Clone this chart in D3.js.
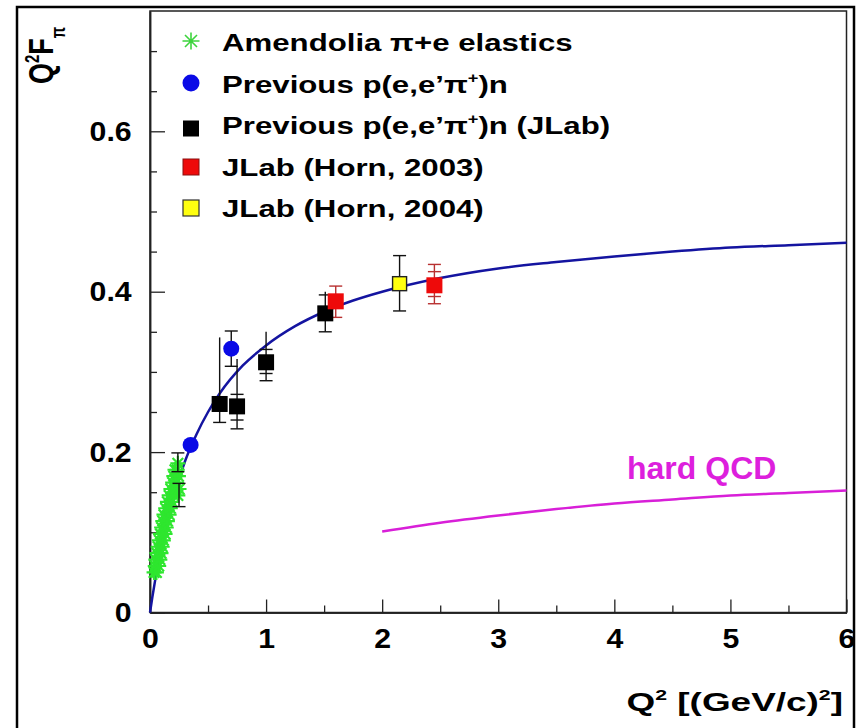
<!DOCTYPE html>
<head>
  <meta charset="utf-8">
  <title>Pion form factor</title>
  <script src="https://d3js.org/d3.v7.min.js"></script>
  <style>
    body { margin: 0; background: #fff; }
    text { font-family: "Liberation Sans", Arial, sans-serif; font-weight: bold; }
  </style>
</head>
<body>
  <div id="chart"></div>
  <script type="text/javascript">

    // axis ticks
    var xTicks = [0, 1, 2, 3, 4, 5, 6];
    var xMinor = [0.5, 1.5, 2.5, 3.5, 4.5, 5.5];
    var yTicks = [0, 0.2, 0.4, 0.6];
    var yMinor = [0.05, 0.1, 0.15, 0.25, 0.3, 0.35, 0.45, 0.5, 0.55, 0.65, 0.7];

    // monopole fit
    var fitQ2  = [0, 0.02, 0.05, 0.1, 0.15, 0.2, 0.3, 0.4, 0.5, 0.6, 0.8, 1.0, 1.25, 1.5, 1.75, 2.0, 2.5, 3.0, 3.5, 4.0, 4.5, 5.0, 5.5, 6.0];
    var fitVal = [0, 0.019, 0.045, 0.083, 0.115, 0.143, 0.188, 0.222, 0.250, 0.273, 0.308, 0.333, 0.357, 0.375, 0.389, 0.400, 0.417, 0.429, 0.437, 0.444, 0.450, 0.455, 0.458, 0.461];

    // hard QCD curve
    var qcdQ2  = [2.0, 2.5, 3.0, 3.5, 4.0, 4.5, 5.0, 5.5, 6.0];
    var qcdVal = [0.101, 0.112, 0.121, 0.129, 0.136, 0.141, 0.146, 0.149, 0.152];

    // Amendolia pi+e elastics
    var amQ2  = [0.035, 0.055, 0.045, 0.075, 0.050, 0.085, 0.060, 0.095, 0.070, 0.105, 0.080, 0.115, 0.090, 0.130, 0.100, 0.140, 0.110, 0.150, 0.120, 0.165, 0.135, 0.175, 0.150, 0.190, 0.165, 0.205, 0.240, 0.180, 0.220, 0.250, 0.195, 0.230, 0.205, 0.245, 0.215, 0.235, 0.240];
    var amVal = [0.050, 0.050, 0.058, 0.058, 0.066, 0.066, 0.074, 0.074, 0.082, 0.082, 0.090, 0.090, 0.098, 0.098, 0.106, 0.106, 0.114, 0.114, 0.122, 0.122, 0.130, 0.130, 0.138, 0.138, 0.146, 0.146, 0.146, 0.154, 0.154, 0.154, 0.162, 0.162, 0.170, 0.170, 0.178, 0.178, 0.186];
    // error bars on the highest Amendolia points
    var amErrQ2 = [0.240, 0.250];
    var amErrLo = [0.1756, 0.132];
    var amErrHi = [0.199, 0.161];

    // points with error bars: value, line extent, cap positions
    var blueQ2 = [0.35, 0.70];
    var blueVal = [0.209, 0.329];
    var blueLo = [0.203, 0.307];
    var blueHi = [0.215, 0.351];
    var blueCaps = [[], [0.307, 0.351]];

    var blackQ2 = [0.60, 0.75, 1.00, 1.51];
    var blackVal = [0.260, 0.257, 0.312, 0.373];
    var blackLo = [0.237, 0.229, 0.289, 0.350];
    var blackHi = [0.343, 0.316, 0.350, 0.400];
    var blackCaps = [[0.237], [0.229, 0.240, 0.272], [0.289, 0.298, 0.328], [0.350, 0.396]];

    var redQ2 = [1.60, 2.45];
    var redVal = [0.388, 0.408];
    var redLo = [0.368, 0.385];
    var redHi = [0.407, 0.434];
    var redCaps = [[0.368, 0.407], [0.385, 0.394, 0.425, 0.434]];

    var yellowQ2 = [2.15];
    var yellowVal = [0.410];
    var yellowLo = [0.376];
    var yellowHi = [0.445];
    var yellowCaps = [[0.376, 0.445]];

    var legendLabels = ['Amendolia \u03c0+e elastics', 'Previous p(e,e\u2019\u03c0', 'Previous p(e,e\u2019\u03c0', 'JLab (Horn, 2003)', 'JLab (Horn, 2004)'];

    var W = 859, H = 728;
    var x = d3.scaleLinear().domain([0, 6]).range([150, 846.5]);
    var y = d3.scaleLinear().domain([0, 0.75]).range([612.5, 11]);

    var svg = d3.select('#chart').append('svg')
        .attr('width', W).attr('height', H);

    // plot frame
    svg.append('rect')
        .attr('x', x(0)).attr('y', y(0.75))
        .attr('width', x(6) - x(0)).attr('height', y(0) - y(0.75))
        .attr('fill', 'none').attr('stroke', '#222').attr('stroke-width', 1.5);

    function styleAxis(g) {
      g.select('.domain').attr('stroke', '#222').attr('stroke-width', 1.5);
      g.selectAll('.tick line').attr('stroke', '#222').attr('stroke-width', 1.3);
    }

    // x axis
    svg.append('g').attr('transform', 'translate(0,' + y(0) + ')')
        .call(d3.axisBottom(x).tickValues(xMinor).tickSize(-7).tickSizeOuter(0).tickFormat(''))
        .call(styleAxis);
    var gx = svg.append('g').attr('transform', 'translate(0,' + y(0) + ')')
        .call(d3.axisBottom(x).tickValues(xTicks).tickSize(-13).tickSizeOuter(0).tickPadding(16).tickFormat(d3.format('d')))
        .call(styleAxis);
    gx.selectAll('text').attr('fill', '#000').style('font-size', '28px')
        .attr('transform', 'scale(1.08,1)');

    // y axis
    svg.append('g').attr('transform', 'translate(' + x(0) + ',0)')
        .call(d3.axisLeft(y).tickValues(yMinor).tickSize(-7).tickSizeOuter(0).tickFormat(''))
        .call(styleAxis);
    var gy = svg.append('g').attr('transform', 'translate(' + x(0) + ',0)')
        .call(d3.axisLeft(y).tickValues(yTicks).tickSize(-15).tickSizeOuter(0).tickPadding(17)
          .tickFormat(function(d) { return d === 0 ? '0' : d3.format('.1f')(d); }))
        .call(styleAxis);
    gy.selectAll('text').attr('fill', '#000').style('font-size', '28px')
        .attr('transform', 'scale(1.08,1)');

    // curves
    var line = d3.line()
        .x(function(d) { return x(d[0]); })
        .y(function(d) { return y(d[1]); })
        .curve(d3.curveMonotoneX);

    svg.append('path')
        .datum(fitQ2.map(function(q, i) { return [q, fitVal[i]]; }))
        .attr('d', line)
        .attr('fill', 'none').attr('stroke', '#1414a0').attr('stroke-width', 2.5);

    svg.append('path')
        .datum(qcdQ2.map(function(q, i) { return [q, qcdVal[i]]; }))
        .attr('d', line)
        .attr('fill', 'none').attr('stroke', '#d81fd8').attr('stroke-width', 2.5);

    svg.append('text')
        .attr('x', 627).attr('y', 479)
        .attr('fill', '#dd1fdd')
        .style('font-size', '32px')
        .text('hard QCD');

    // star marker path (plus + cross)
    function starPath(r) {
      var k = r * 0.7071;
      return 'M' + (-r) + ',0L' + r + ',0M0,' + (-r) + 'L0,' + r +
        'M' + (-k) + ',' + (-k) + 'L' + k + ',' + k + 'M' + (-k) + ',' + k + 'L' + k + ',' + (-k);
    }

    // Amendolia stars
    svg.append('g').selectAll('path')
        .data(amQ2.map(function(q, i) { return [q, amVal[i]]; }))
        .enter()
      .append('path')
        .attr('transform', function(d) { return 'translate(' + x(d[0]) + ',' + y(d[1]) + ')'; })
        .attr('d', starPath(7.5))
        .attr('fill', 'none').attr('stroke', '#2ee62e').attr('stroke-width', 2.2);

    // error bar helper
    function errorBars(qs, lo, hi, caps, color) {
      var g = svg.append('g').attr('stroke', color).attr('stroke-width', 1.4);
      qs.forEach(function(q, i) {
        g.append('line')
          .attr('x1', x(q)).attr('x2', x(q))
          .attr('y1', y(lo[i])).attr('y2', y(hi[i]));
        caps[i].forEach(function(c) {
          g.append('line')
            .attr('x1', x(q) - 6.5).attr('x2', x(q) + 6.5)
            .attr('y1', y(c)).attr('y2', y(c));
        });
      });
    }

    errorBars(amErrQ2, amErrLo, amErrHi,
      amErrQ2.map(function(q, i) { return [amErrLo[i], amErrHi[i]]; }), '#111');
    errorBars(blueQ2, blueLo, blueHi, blueCaps, '#111');
    errorBars(blackQ2, blackLo, blackHi, blackCaps, '#111');
    errorBars(redQ2, redLo, redHi, redCaps, '#b83030');
    errorBars(yellowQ2, yellowLo, yellowHi, yellowCaps, '#111');

    // markers
    svg.append('g').selectAll('circle')
        .data(blueQ2.map(function(q, i) { return [q, blueVal[i]]; }))
        .enter()
      .append('circle')
        .attr('cx', function(d) { return x(d[0]); })
        .attr('cy', function(d) { return y(d[1]); })
        .attr('r', 8)
        .attr('fill', '#0a0ae6');

    function squares(qs, vals, fill, stroke, size) {
      svg.append('g').selectAll('rect')
          .data(qs.map(function(q, i) { return [q, vals[i]]; }))
          .enter()
        .append('rect')
          .attr('x', function(d) { return x(d[0]) - size / 2; })
          .attr('y', function(d) { return y(d[1]) - size / 2; })
          .attr('width', size).attr('height', size)
          .attr('fill', fill)
          .attr('stroke', stroke).attr('stroke-width', stroke === 'none' ? 0 : 1.4);
    }
    squares(blackQ2, blackVal, '#000', 'none', 16);
    squares(redQ2, redVal, '#ee0a0a', 'none', 16);
    squares(yellowQ2, yellowVal, '#ffff10', '#222', 14);

    // legend
    var legX = 191, legTextX = 222;
    var legBase = [51, 92.5, 134, 175.5, 217];
    var leg = svg.append('g');

    leg.append('path')
        .attr('transform', 'translate(' + legX + ',' + (legBase[0] - 10) + ')')
        .attr('d', starPath(8.5))
        .attr('fill', 'none').attr('stroke', '#3ed43e').attr('stroke-width', 1.6);
    leg.append('circle')
        .attr('cx', legX).attr('cy', legBase[1] - 9.5).attr('r', 8.5)
        .attr('fill', '#0a0ae6');
    leg.append('rect')
        .attr('x', legX - 8).attr('y', legBase[2] - 13.5).attr('width', 16).attr('height', 16)
        .attr('fill', '#000');
    leg.append('rect')
        .attr('x', legX - 8).attr('y', legBase[3] - 16.5).attr('width', 16).attr('height', 16)
        .attr('fill', '#ee0a0a').attr('stroke', '#8a1010').attr('stroke-width', 1);
    leg.append('rect')
        .attr('x', legX - 8).attr('y', legBase[4] - 17).attr('width', 16).attr('height', 16)
        .attr('fill', '#ffff10').attr('stroke', '#333').attr('stroke-width', 1.2);

    legendLabels.forEach(function(label, i) {
      var t = leg.append('text')
          .attr('transform', 'translate(' + legTextX + ',' + legBase[i] + ') scale(1.3,1)')
          .style('font-size', '24px')
          .attr('fill', '#000');
      t.append('tspan').text(label);
      if (i === 1 || i === 2) {
        t.append('tspan').attr('dy', -10).style('font-size', '14px').text('+');
        t.append('tspan').attr('dy', 10).text(i === 1 ? ')n' : ')n (JLab)');
      }
    });

    // x axis title
    var xt = svg.append('text')
        .attr('transform', 'translate(843,711) scale(1.42,1)')
        .attr('text-anchor', 'end')
        .style('font-size', '26px')
        .attr('fill', '#000');
    xt.append('tspan').text('Q');
    xt.append('tspan').attr('dy', -11).style('font-size', '15px').text('2');
    xt.append('tspan').attr('dy', 11).text(' [(GeV/c)');
    xt.append('tspan').attr('dy', -11).style('font-size', '15px').text('2');
    xt.append('tspan').attr('dy', 11).text(']');

    // y axis title
    var yt = svg.append('text')
        .attr('transform', 'translate(53,84) scale(1.3,1) rotate(-90)')
        .style('font-size', '27px')
        .attr('fill', '#000');
    yt.append('tspan').text('Q');
    yt.append('tspan').attr('dy', -11).style('font-size', '15px').text('2');
    yt.append('tspan').attr('dy', 11).text('F');
    yt.append('tspan').attr('dy', 9).style('font-size', '15px').text('\u03c0');

    // outer border
    svg.append('rect')
        .attr('x', 17).attr('y', 7).attr('width', 837).attr('height', 740)
        .attr('fill', 'none').attr('stroke', '#000').attr('stroke-width', 2.5);
  </script>
</body>
